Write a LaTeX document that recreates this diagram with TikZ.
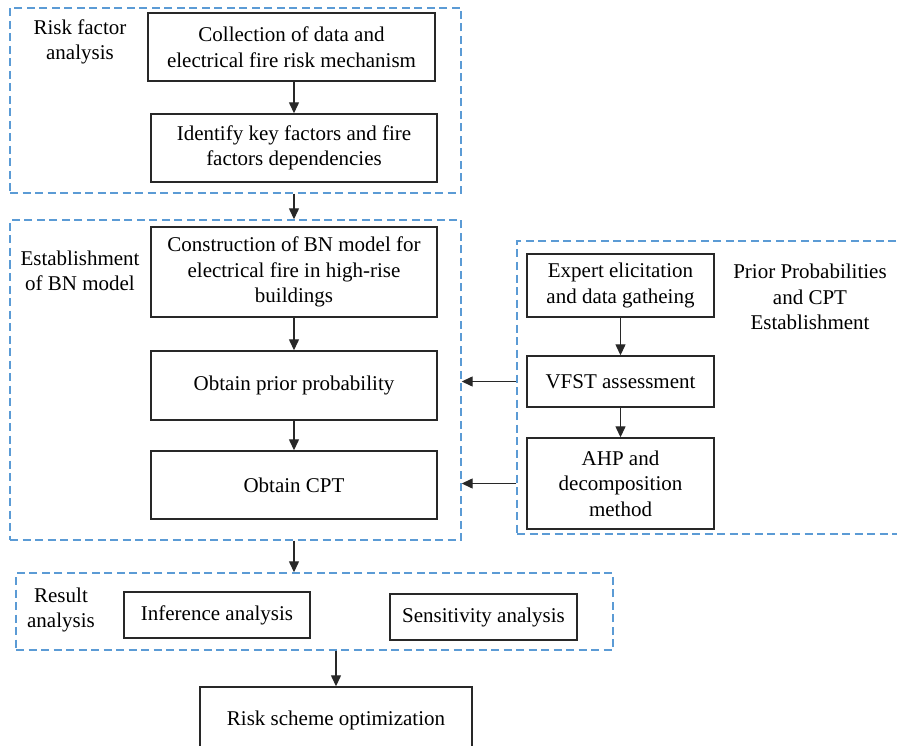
\documentclass[tikz,border=0pt]{standalone}
\usepackage{fontspec}
\setmainfont{Liberation Serif}
\usepackage{tikz}
\usetikzlibrary{arrows.meta}
\definecolor{frameblue}{RGB}{91,155,213}
\definecolor{boxline}{RGB}{40,40,40}
\tikzset{
	stepbox/.style={draw=boxline, line width=1.4pt, align=center, inner sep=2pt},
	frame/.style={draw=frameblue, line width=1.4pt, dash pattern=on 8pt off 4.5pt},
	label/.style={align=center, inner sep=0pt},
	arr/.style={draw=boxline, line width=1.3pt, -{Triangle[length=11pt,width=10pt]}}
}

\begin{document}
\begin{tikzpicture}[x=1pt, y=-1pt, font=\fontsize{21}{25.5}\selectfont]
			%%%%% START %%%%%
			\useasboundingbox (0, 0) rectangle (897, 746);
			
			\node[frame, minimum width=451, minimum height=185] (risk) at (235.5, 100.5) {};
			\node[frame, minimum width=451, minimum height=320] (bn) at (235.5, 380) {};
			\node[frame, minimum width=393, minimum height=293] (prior) at (713.5, 387.5) {};
			\node[frame, minimum width=597, minimum height=77] (result) at (314.5, 611.5) {};
			
			\node[label] (riskl) at (80, 42) {Risk factor\\analysis};
			\node[label] (bnl) at (80, 271) {Establishment\\of BN model};
			\node[label] (priorl) at (810, 297) {Prior Probabilities\\and CPT\\Establishment};
			\node[label] (resultl) at (61, 610) {Result\\analysis};
			
			\node[stepbox, minimum width=287, minimum height=68] (collect) at (291.5, 47) {Collection of data and\\electrical fire risk mechanism};
			\node[stepbox, minimum width=286, minimum height=68] (identify) at (294, 148) {Identify key factors and fire\\factors dependencies};
			
			\node[stepbox, minimum width=286, minimum height=90] (construct) at (294, 272) {Construction of BN model for\\electrical fire in high-rise\\buildings};
			\node[stepbox, minimum width=286, minimum height=69] (priorp) at (294, 385.5) {Obtain prior probability};
			\node[stepbox, minimum width=286, minimum height=68] (cpt) at (294, 485) {Obtain CPT};
			
			\node[stepbox, minimum width=187, minimum height=63] (expert) at (620.5, 285.5) {Expert elicitation\\and data gatheing};
			\node[stepbox, minimum width=187, minimum height=51] (vfst) at (620.5, 381.5) {VFST assessment};
			\node[stepbox, minimum width=187, minimum height=91] (ahp) at (620.5, 483.5) {AHP and\\decomposition\\method};
			
			\node[stepbox, minimum width=186, minimum height=46] (infer) at (217, 615) {Inference analysis};
			\node[stepbox, minimum width=187, minimum height=46] (sens) at (483.5, 617) {Sensitivity analysis};
			
			\node[stepbox, minimum width=272, minimum height=66] (optim) at (336, 720) {Risk scheme optimization};
			
			\draw[arr] (collect.south -| identify) -- (identify);
			\draw[arr] (risk.south -| identify) -- (bn.north -| identify);
			\draw[arr] (construct) -- (priorp);
			\draw[arr] (priorp) -- (cpt);
			\draw[arr] (bn.south -| cpt) -- (result.north -| cpt);
			\draw[arr] (result.south -| optim) -- (optim);
			
			\draw[arr] (expert) -- (vfst);
			\draw[arr] (vfst) -- (ahp);
			\draw[arr] (prior.west |- vfst) -- (bn.east |- vfst);
			\draw[arr] (prior.west |- ahp) -- (bn.east |- ahp);
			%%%%% END %%%%%
\end{tikzpicture}
\end{document}
